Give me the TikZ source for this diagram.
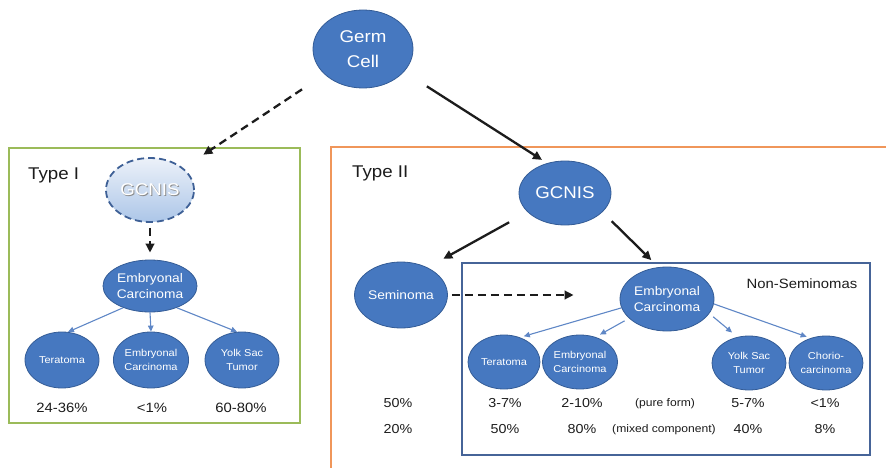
\documentclass[tikz,border=0pt]{standalone}
\usepackage{fontspec}
\setmainfont{Liberation Sans}[FakeStretch=1.1]
\usetikzlibrary{shapes.geometric,arrows.meta}
\definecolor{cellfill}{RGB}{70,120,192}
\definecolor{celldraw}{RGB}{52,92,150}
\definecolor{arrowblue}{RGB}{95,135,198}
\definecolor{typeonegreen}{RGB}{155,187,89}
\definecolor{typetwoorange}{RGB}{240,150,90}
\definecolor{nsframe}{RGB}{70,100,152}
\definecolor{ghostdraw}{RGB}{62,96,150}
\definecolor{ghosttop}{RGB}{236,241,249}
\definecolor{ghostbottom}{RGB}{172,198,232}
\definecolor{txt}{RGB}{28,28,28}
\tikzset{
  cell/.style={ellipse, draw=celldraw, line width=0.8pt, fill=cellfill, text=white, inner sep=0pt, align=center},
  bigtxt/.style={font=\fontsize{17}{25}\selectfont},
  midtxt/.style={font=\fontsize{12.5}{16.5}\selectfont},
  smalltxt/.style={font=\fontsize{10}{14}\selectfont},
  blk/.style={-{Triangle[length=9pt,width=8.5pt]}, line width=2.3pt, draw=txt},
  blkdash/.style={blk, dash pattern=on 8pt off 5pt},
  blu/.style={-{Triangle[length=6pt,width=5.5pt]}, line width=1.1pt, draw=arrowblue},
  pct/.style={anchor=base, inner sep=0pt, font=\fontsize{13}{15}\selectfont, text=txt},
  pctbig/.style={pct, font=\fontsize{13.5}{15}\selectfont},
  note/.style={anchor=base, inner sep=0pt, font=\fontsize{11}{13}\selectfont, text=txt},
  frame/.style={line width=2pt},
}
\begin{document}
\begin{tikzpicture}[x=1pt,y=-1pt]
\useasboundingbox (0,0) rectangle (886,468);
% frames
\draw[frame, draw=typeonegreen] (9,148) rectangle (300,423);
\draw[frame, draw=typetwoorange] (331,470) -- (331,147) -- (888,147);
\draw[frame, draw=nsframe] (462,263) rectangle (870,455);
% labels
\node[anchor=base west, inner sep=0pt, bigtxt, text=txt] (t1) at (28,179) {Type I};
\node[anchor=base west, inner sep=0pt, bigtxt, text=txt] (t2) at (352,177) {Type II};
\node[anchor=base, inner sep=0pt, font=\fontsize{13.5}{15}\selectfont, text=txt] (ns) at (802,288) {Non-Seminomas};
% nodes
\node[cell, bigtxt, minimum width=100pt, minimum height=78pt] (gc) at (363,49) {Germ\\Cell};
\node[ellipse, draw=ghostdraw, line width=1.8pt, dash pattern=on 7pt off 4pt, top color=ghosttop, bottom color=ghostbottom, inner sep=0pt, bigtxt, text=white, minimum width=88pt, minimum height=64pt] (g1) at (150,190)
  {\rlap{\hspace{0.9pt}\raisebox{-0.9pt}{\color{black!45}GCNIS}}GCNIS};
\node[cell, midtxt, minimum width=92pt, minimum height=52pt] (ec1) at (150,286) {Embryonal\\Carcinoma};
\node[cell, smalltxt, minimum width=74pt, minimum height=56pt] (te1) at (62,360) {Teratoma};
\node[cell, smalltxt, minimum width=74pt, minimum height=56pt] (ecc1) at (151,360) {Embryonal\\Carcinoma};
\node[cell, smalltxt, minimum width=74pt, minimum height=56pt] (ys1) at (242,360) {Yolk Sac\\Tumor};

\node[cell, bigtxt, minimum width=92pt, minimum height=64pt] (g2) at (565,193) {GCNIS};
\node[cell, midtxt, minimum width=90pt, minimum height=66pt] (sem) at (401,295) {Seminoma};
\node[cell, midtxt, minimum width=92pt, minimum height=64pt] (ec2) at (667,299) {Embryonal\\Carcinoma};
\node[cell, smalltxt, minimum width=72pt, minimum height=54pt] (te2) at (504,362) {Teratoma};
\node[cell, smalltxt, minimum width=74pt, minimum height=54pt] (ecc2) at (580,362) {Embryonal\\Carcinoma};
\node[cell, smalltxt, minimum width=74pt, minimum height=54pt] (ys2) at (749,363) {Yolk Sac\\Tumor};
\node[cell, smalltxt, minimum width=74pt, minimum height=54pt] (ch2) at (826,363) {Chorio-\\carcinoma};

% percentages type I
\node[pctbig] (p1a) at (62,412) {24-36\%};
\node[pctbig] (p1b) at (152,412) {<1\%};
\node[pctbig] (p1c) at (241,412) {60-80\%};
% percentages type II
\node[pct] (p2a) at (398,407) {50\%};
\node[pct] (p2b) at (398,433) {20\%};
\node[pct] (p2c) at (505,407) {3-7\%};
\node[pct] (p2d) at (505,433) {50\%};
\node[pct] (p2e) at (582,407) {2-10\%};
\node[pct] (p2f) at (582,433) {80\%};
\node[note] (pf) at (665,406) {(pure form)};
\node[note] (mc) at (664,432) {(mixed component)};
\node[pct] (p2g) at (748,407) {5-7\%};
\node[pct] (p2h) at (748,433) {40\%};
\node[pct] (p2i) at (825,407) {<1\%};
\node[pct] (p2j) at (825,433) {8\%};

% connectors
\draw[blkdash, shorten <=27pt, shorten >=24pt] (gc) -- (g1);
\draw[blk, shorten <=27pt, shorten >=6pt] (gc.-29) -- (g2.121);
\draw[blkdash, shorten <=5pt, shorten >=7pt] (g1.south) -- (ec1.north);
\draw[blu] (ec1.219) -- (te1.78);
\draw[blu] (ec1.south) -- (ecc1.north);
\draw[blu] (ec1.-39) -- (ys1.100);
\draw[blk, shorten <=21pt, shorten >=18pt] (g2.207) -- (sem.46);
\draw[blk, shorten <=13pt, shorten >=10pt] (g2.-27) -- (ec2.105);
\draw[blkdash, shorten <=4pt, shorten >=46pt] (sem.east) -- (sem.east -| ec2.west);
\draw[blu, shorten >=4pt] (ec2.191) -- (te2.57);
\draw[blu, shorten <=5pt, shorten >=5pt] (ec2.207) -- (ecc2.58);
\draw[blu, shorten <=5pt, shorten >=7pt] (ec2.-19) -- (ys2.114);
\draw[blu, shorten >=4pt] (ec2.-6) -- (ch2.122);
\end{tikzpicture}
\end{document}
